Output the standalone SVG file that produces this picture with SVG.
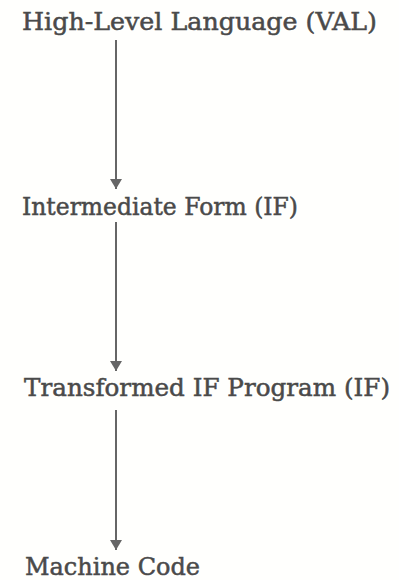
<svg xmlns="http://www.w3.org/2000/svg" width="399" height="580" viewBox="0 0 399 580">
<defs>
<style>
.t{font-family:"DejaVu Serif","Liberation Serif",serif;font-size:24px;fill:#4a4a4a;stroke:#4a4a4a;stroke-width:0.5;}
.c{stroke:#666;stroke-width:2;fill:none;}
</style>
<marker id="ah" markerWidth="5" markerHeight="6" refX="5" refY="3" orient="auto" markerUnits="strokeWidth">
<path d="M0,0 L5,3 L0,6 z" fill="#666"/>
</marker>
</defs>
<rect width="399" height="580" fill="#fffffd"/>
<g id="n1"><text class="t" x="22" y="30" textLength="355" lengthAdjust="spacingAndGlyphs">High-Level Language (VAL)</text></g>
<g id="n2"><text class="t" x="22" y="215" textLength="276" lengthAdjust="spacingAndGlyphs">Intermediate Form (IF)</text></g>
<g id="n3"><text class="t" x="24" y="396" textLength="366" lengthAdjust="spacingAndGlyphs">Transformed IF Program (IF)</text></g>
<g id="n4"><text class="t" x="25" y="575" textLength="175" lengthAdjust="spacingAndGlyphs">Machine Code</text></g>
<g id="connectors">
<line class="c" x1="116" y1="40" x2="116" y2="189" marker-end="url(#ah)"/>
<line class="c" x1="116" y1="222" x2="116" y2="371" marker-end="url(#ah)"/>
<line class="c" x1="116" y1="410" x2="116" y2="550" marker-end="url(#ah)"/>
</g>
</svg>
